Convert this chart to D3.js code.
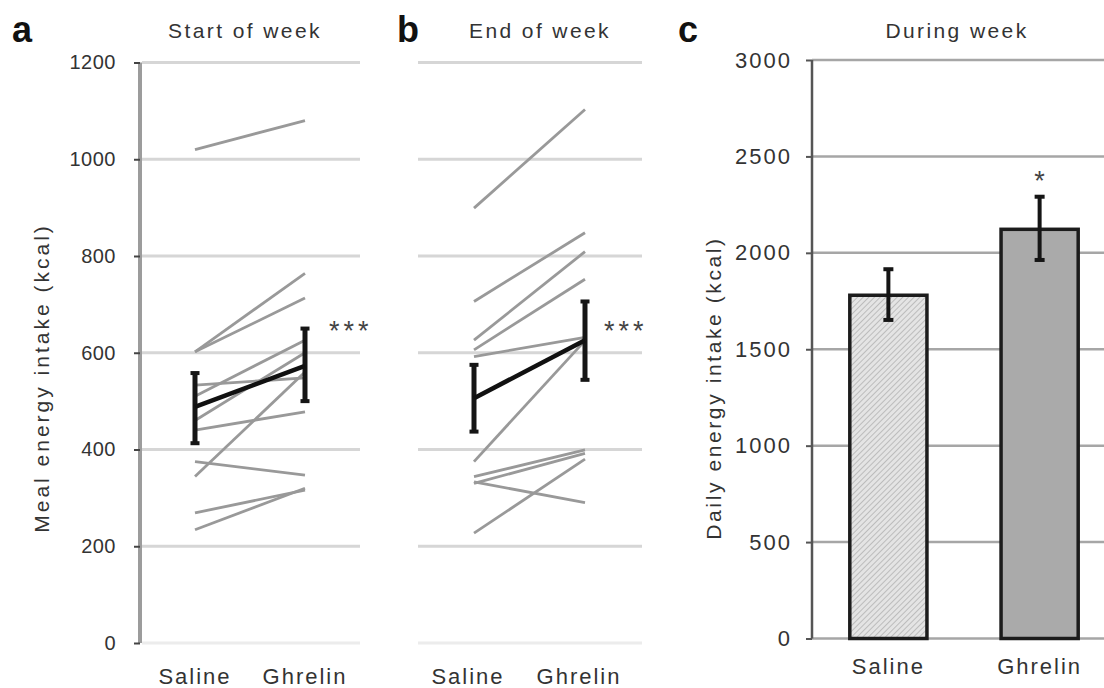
<!DOCTYPE html>
<html lang="en">
  <head>
    <meta charset="UTF-8" />
    <title>Ghrelin meal energy intake</title>
    <style>
      body {
        margin: 0;
        background: #fff;
      }
      svg text {
        font-family: 'Liberation Sans', Arial, sans-serif;
        fill: #333;
      }
    </style>
  </head>
  <body>
    <div id="main"></div>
    <script src="https://cdn.jsdelivr.net/npm/d3@7"></script>

    <script>
      const conditions = ['Saline', 'Ghrelin']

      // a: start of week, one line per subject (kcal)
      const startSaline = [1020, 602, 602, 533, 510, 460, 440, 375, 344, 269, 234]
      const startGhrelin = [1080, 764, 713, 548, 626, 600, 478, 347, 560, 316, 320]
      const startMean = [488, 573]
      const startErrLow = [413, 500]
      const startErrHigh = [558, 650]

      // b: end of week
      const endSaline = [899, 706, 626, 606, 592, 375, 344, 330, 333, 227]
      const endGhrelin = [1103, 848, 809, 752, 632, 625, 399, 392, 290, 380]
      const endMean = [506, 626]
      const endErrLow = [437, 544]
      const endErrHigh = [575, 706]

      // c: daily intake during week
      const dailyMean = [1780, 2122]
      const dailyErrLow = [1652, 1963]
      const dailyErrHigh = [1915, 2291]

      const mealTicks = [0, 200, 400, 600, 800, 1000, 1200]
      const dailyTicks = [0, 500, 1000, 1500, 2000, 2500, 3000]

      const [width, height] = [1104, 688]
      const svg = d3
        .select('#main')
        .append('svg')
        .attr('width', width)
        .attr('height', height)
        .attr('viewBox', `0 0 ${width} ${height}`)

      const defs = svg.append('defs')
      const hatch = defs
        .append('pattern')
        .attr('id', 'hatch')
        .attr('patternUnits', 'userSpaceOnUse')
        .attr('width', 4)
        .attr('height', 4)
        .attr('patternTransform', 'rotate(45)')
      hatch.append('rect').attr('width', 4).attr('height', 4).attr('fill', '#e4e4e4')
      hatch
        .append('line')
        .attr('x1', 0)
        .attr('y1', 0)
        .attr('x2', 0)
        .attr('y2', 4)
        .attr('stroke', '#bcbcbc')
        .attr('stroke-width', 2)

      const yMeal = d3.scaleLinear().domain([0, 1200]).range([643, 62.5])

      // paired-line panel (a, b)
      function pairedPanel(opts) {
        const { x, gridX, saline, ghrelin, mean, lo, hi, starX } = opts
        const g = svg.append('g')

        g.selectAll('.grid')
          .data(mealTicks)
          .join('line')
          .attr('x1', gridX[0])
          .attr('x2', gridX[1])
          .attr('y1', d => yMeal(d))
          .attr('y2', d => yMeal(d))
          .attr('stroke', d => (d === 0 ? '#ececec' : '#d6d6d6'))
          .attr('stroke-width', 3)

        const pairs = saline.map((s, i) => [s, ghrelin[i]])
        g.selectAll('.subj')
          .data(pairs)
          .join('line')
          .attr('x1', x(conditions[0]))
          .attr('x2', x(conditions[1]))
          .attr('y1', d => yMeal(d[0]))
          .attr('y2', d => yMeal(d[1]))
          .attr('stroke', '#999')
          .attr('stroke-width', 2.8)

        // error bars
        const eb = g
          .selectAll('.err')
          .data(conditions)
          .join('g')
        eb.append('line')
          .attr('x1', d => x(d))
          .attr('x2', d => x(d))
          .attr('y1', (d, i) => yMeal(lo[i]))
          .attr('y2', (d, i) => yMeal(hi[i]))
          .attr('stroke', '#151515')
          .attr('stroke-width', 5)
        eb.selectAll('.cap')
          .data((d, i) => [lo[i], hi[i]].map(v => ({ c: d, v })))
          .join('rect')
          .attr('x', d => x(d.c) - 4.5)
          .attr('y', d => yMeal(d.v) - 2)
          .attr('width', 9)
          .attr('height', 4)
          .attr('fill', '#151515')

        g.append('line')
          .attr('x1', x(conditions[0]))
          .attr('x2', x(conditions[1]))
          .attr('y1', yMeal(mean[0]))
          .attr('y2', yMeal(mean[1]))
          .attr('stroke', '#111')
          .attr('stroke-width', 4.5)

        g.append('text')
          .attr('x', starX)
          .attr('y', 340)
          .style('font-size', '27px')
          .style('fill', '#444')
          .attr('letter-spacing', 4)
          .text('***')

        g.selectAll('.xl')
          .data(conditions)
          .join('text')
          .attr('x', d => x(d) + (opts.labelShift || 0))
          .attr('y', 684)
          .attr('text-anchor', 'middle')
          .style('font-size', '22px')
          .attr('letter-spacing', 2)
          .text(d => d)
        return g
      }

      const xA = d3.scalePoint().domain(conditions).range([195, 305])
      const xB = d3.scalePoint().domain(conditions).range([474, 585])

      pairedPanel({
        x: xA,
        gridX: [142, 360],
        saline: startSaline,
        ghrelin: startGhrelin,
        mean: startMean,
        lo: startErrLow,
        hi: startErrHigh,
        starX: 329
      })
      pairedPanel({
        x: xB,
        gridX: [418, 642],
        saline: endSaline,
        ghrelin: endGhrelin,
        mean: endMean,
        lo: endErrLow,
        hi: endErrHigh,
        starX: 604,
        labelShift: -6
      })

      // axis for a
      const axA = svg
        .append('g')
        .attr('transform', 'translate(140, 0)')
        .call(
          d3.axisLeft(yMeal).tickValues(mealTicks).tickFormat(d3.format('d')).tickSize(6).tickPadding(18)
        )
      axA.select('.domain').attr('stroke', '#9c9c9c').attr('stroke-width', 4).attr('d', `M0,${yMeal(1200)}V${yMeal(0)}`)
      axA.selectAll('.tick line').attr('stroke', '#444').attr('stroke-width', 2)
      axA.selectAll('.tick text')
        .style('font-size', '20px')
        .style('fill', '#333')
        .attr('font-family', null)
        .attr('letter-spacing', 0.5)

      // c: bars
      const yDaily = d3.scaleLinear().domain([0, 3000]).range([638.5, 60])
      const xC = d3
        .scaleBand()
        .domain(conditions)
        .range([812, 1116])
        .paddingInner(0.49)
        .paddingOuter(0.25)

      const gc = svg.append('g')
      gc.selectAll('.grid')
        .data(dailyTicks)
        .join('line')
        .attr('x1', 812)
        .attr('x2', width)
        .attr('y1', d => yDaily(d))
        .attr('y2', d => yDaily(d))
        .attr('stroke', '#a6a6a6')
        .attr('stroke-width', 2.5)

      gc.selectAll('.bar')
        .data(dailyMean)
        .join('rect')
        .attr('x', (d, i) => xC(conditions[i]))
        .attr('width', xC.bandwidth())
        .attr('y', d => yDaily(d))
        .attr('height', d => yDaily(0) - yDaily(d))
        .attr('fill', (d, i) => (i === 0 ? 'url(#hatch)' : '#aaaaaa'))
        .attr('stroke', '#1c1c1c')
        .attr('stroke-width', 3.5)

      const cx = i => xC(conditions[i]) + xC.bandwidth() / 2
      gc.selectAll('.cerr')
        .data(dailyMean)
        .join('line')
        .attr('x1', (d, i) => cx(i))
        .attr('x2', (d, i) => cx(i))
        .attr('y1', (d, i) => yDaily(dailyErrLow[i]))
        .attr('y2', (d, i) => yDaily(dailyErrHigh[i]))
        .attr('stroke', '#151515')
        .attr('stroke-width', 4)
      gc.selectAll('.ccap')
        .data(dailyMean.flatMap((d, i) => [[i, dailyErrLow[i]], [i, dailyErrHigh[i]]]))
        .join('rect')
        .attr('x', d => cx(d[0]) - 5)
        .attr('y', d => yDaily(d[1]) - 2)
        .attr('width', 10)
        .attr('height', 4)
        .attr('fill', '#151515')

      gc.append('text')
        .attr('x', cx(1))
        .attr('y', 190)
        .attr('text-anchor', 'middle')
        .style('font-size', '27px')
        .style('fill', '#444')
        .text('*')

      const axC = svg
        .append('g')
        .attr('transform', 'translate(812, 0)')
        .call(
          d3.axisLeft(yDaily).tickValues(dailyTicks).tickFormat(d3.format('d')).tickSize(6).tickPadding(14)
        )
      axC.select('.domain').attr('stroke', '#555').attr('stroke-width', 2.5).attr('d', `M0,${yDaily(3000)}V${yDaily(0)}`)
      axC.selectAll('.tick line').attr('stroke', '#555').attr('stroke-width', 2)
      axC.selectAll('.tick text')
        .style('font-size', '22px')
        .style('fill', '#333')
        .attr('font-family', null)
        .attr('letter-spacing', 2)

      gc.selectAll('.xl')
        .data(conditions)
        .join('text')
        .attr('x', (d, i) => cx(i))
        .attr('y', 674)
        .attr('text-anchor', 'middle')
        .style('font-size', '22px')
        .attr('letter-spacing', 2)
        .text(d => d)

      // titles and panel letters
      const titles = [
        { t: 'Start of week', x: 245, y: 38 },
        { t: 'End of week', x: 540, y: 38 },
        { t: 'During week', x: 957, y: 38 }
      ]
      svg.selectAll('.title')
        .data(titles)
        .join('text')
        .attr('x', d => d.x)
        .attr('y', d => d.y)
        .attr('text-anchor', 'middle')
        .style('font-size', '21px')
        .attr('letter-spacing', 2.4)
        .text(d => d.t)

      const letters = [
        { t: 'a', x: 12 },
        { t: 'b', x: 397 },
        { t: 'c', x: 678 }
      ]
      svg.selectAll('.letter')
        .data(letters)
        .join('text')
        .attr('x', d => d.x)
        .attr('y', 42)
        .style('font-size', '36px')
        .style('font-weight', 'bold')
        .style('fill', '#111')
        .text(d => d.t)

      svg.append('text')
        .attr('transform', 'translate(49, 378) rotate(-90)')
        .attr('text-anchor', 'middle')
        .style('font-size', '21px')
        .attr('letter-spacing', 3)
        .text('Meal energy intake (kcal)')

      svg.append('text')
        .attr('transform', 'translate(721, 388) rotate(-90)')
        .attr('text-anchor', 'middle')
        .style('font-size', '21px')
        .attr('letter-spacing', 2.6)
        .text('Daily energy intake (kcal)')
    </script>
  </body>
</html>
